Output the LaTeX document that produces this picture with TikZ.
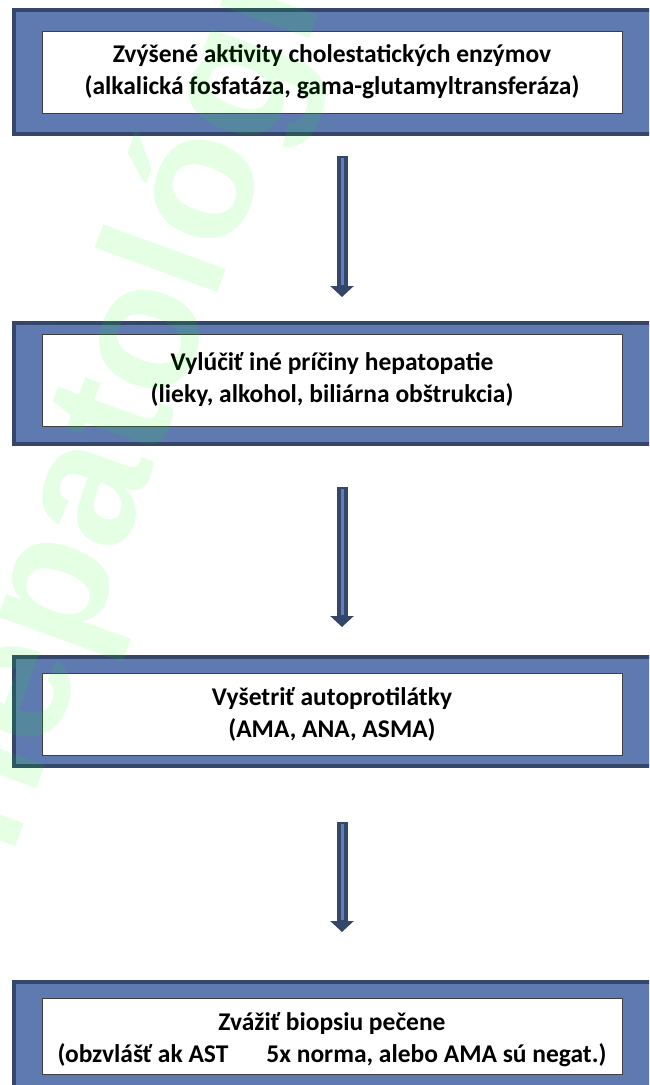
\documentclass[tikz,border=0pt]{standalone}
\usepackage{fontspec}
\setmainfont{Carlito}
\newfontfamily\wmfont{Liberation Sans}
\usetikzlibrary{arrows.meta}
\definecolor{frameblue}{RGB}{95,122,176}
\definecolor{framedark}{RGB}{52,70,106}
\definecolor{arrowlight}{RGB}{98,126,182}
\definecolor{wmgreen}{RGB}{0,255,0}
\begin{document}
\begin{tikzpicture}[x=1pt,y=-1pt,
  frame/.style={draw=framedark, line width=4pt, fill=frameblue, inner sep=0pt},
  whitebox/.style={draw=black!75, line width=0.8pt, fill=white, align=center,
    font=\bfseries\fontsize{25.5}{32}\selectfont, inner sep=0pt},
  shaft/.style={draw=framedark, line width=11pt, -{Triangle[width=23pt,length=11pt]}},
  stripe/.style={draw=arrowlight, line width=3pt},
]
\useasboundingbox (0,0) rectangle (649,1085);
\begin{scope}
\clip (0,0) rectangle (649,1085);
% box 1
\node[frame, minimum width=654pt, minimum height=124pt] (f1) at (341,72) {};
\node[whitebox, minimum width=580pt, minimum height=82pt] (b1) at (332,72)
  {Zvýšené aktivity cholestatických enzýmov\\(alkalická fosfatáza, gama-glutamyltransferáza)};
% box 2
\node[frame, minimum width=654pt, minimum height=121pt] (f2) at (341,383.5) {};
\node[whitebox, minimum width=580pt, minimum height=92pt] (b2) at (332,380)
  {Vylúčiť iné príčiny hepatopatie\\(lieky, alkohol, biliárna obštrukcia)};
% box 3
\node[frame, minimum width=654pt, minimum height=109pt] (f3) at (341,711.5) {};
\node[whitebox, minimum width=580pt, minimum height=82pt] (b3) at (332,714)
  {Vyšetriť autoprotilátky\\(AMA, ANA, ASMA)};
% box 4
\node[frame, minimum width=654pt, minimum height=113pt] (f4) at (341,1038.5) {};
\node[whitebox, minimum width=580pt, minimum height=76pt] (b4) at (332,1036) {};
\node[align=center, inner sep=0pt, font=\bfseries\fontsize{25.5}{32}\selectfont] (t4) at ([yshift=-4pt]b4.center)
  {Zvážiť biopsiu pečene\\(obzvlášť ak AST\hspace{38pt}5x norma, alebo AMA sú negat.)};
% arrows
\coordinate (a1s) at (342,156); \coordinate (a1e) at (342,297);
\coordinate (a2s) at (342,487); \coordinate (a2e) at (342,627);
\coordinate (a3s) at (342,822); \coordinate (a3e) at (342,932);
\foreach \s/\e in {a1s/a1e,a2s/a2e,a3s/a3e}{
  \draw[shaft] (\s) -- (\e);
  \draw[stripe] ([yshift=-2pt]\s) -- ([yshift=12pt]\e);
}
% watermark
\node[rotate=70, text=wmgreen, text opacity=0.1, inner sep=0pt,
  font=\wmfont\bfseries\fontsize{180}{180}\selectfont] (wm) at (140,368) {hepatológia};
\end{scope}
\end{tikzpicture}
\end{document}
